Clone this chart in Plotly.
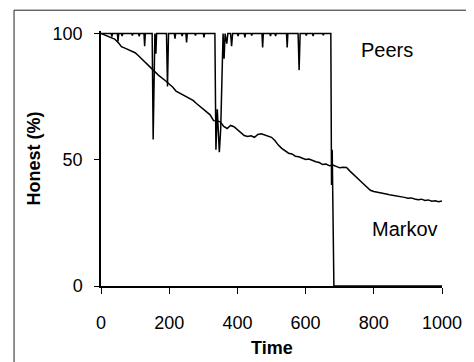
import plotly.graph_objects as go

# ---- data ----
markov_time = list(range(0, 1001, 10))
markov_honest = [
    100, 99.5, 99, 98.2, 97.8, 96.5, 94.8, 94.2, 93.6, 93.0,
    92.4, 91.2, 89.8, 88.5, 87.2, 86.0, 84.6, 83.3, 82.4, 81.2,
    80.0, 78.8, 77.2, 76.5, 75.8, 74.9, 74.4, 73.5, 72.3, 71.2,
    70.3, 69.1, 67.8, 65.5, 65.4, 65.0, 63.2, 62.4, 63.6, 63.1,
    61.8, 60.9, 59.6, 59.2, 59.5, 58.9, 60.0, 60.3, 59.8, 59.5,
    58.9, 57.6, 55.8, 54.5, 53.4, 52.6, 52.3, 51.4, 51.2, 50.5,
    50.1, 50.3, 49.6, 49.2, 48.9, 48.1, 48.3, 47.6, 47.9, 47.2,
    46.8, 47.0, 46.9, 45.5, 44.1, 42.8, 41.7, 40.4, 39.1, 37.9,
    37.4, 37.2, 36.9, 36.8, 36.3, 36.0, 35.8, 35.4, 35.5, 35.1,
    34.8, 34.9, 34.5, 34.2, 34.4, 33.9, 34.1, 33.6, 33.8, 33.4,
    33.7,
]

peers_time = [
    0, 30, 32, 34, 48, 50, 52, 60, 62, 64, 90, 92, 94, 110, 112, 114,
    126, 128, 130, 150, 153, 156, 158, 161, 163, 192, 195, 198, 215, 217, 219,
    236, 238, 240, 249, 251, 253, 275, 277, 279, 300, 302, 304,
    334, 337, 341, 347, 351, 355, 358, 361, 364, 369, 372,
    380, 383, 386, 400, 402, 404, 420, 422, 424, 440, 442, 444,
    472, 474, 476, 495, 497, 499, 510, 512, 514, 544, 546, 548,
    578, 581, 584, 600, 602, 604, 620, 622, 624, 650, 652, 654,
    674, 676, 678, 683, 1000,
]
peers_honest = [
    100, 100, 98.8, 100, 100, 97, 100, 100, 99, 100, 100, 99.2, 100, 100, 98.9, 100,
    100, 95, 100, 100, 58, 100, 100, 92, 100, 100, 79, 100, 100, 98, 100,
    100, 99, 100, 100, 96.5, 100, 100, 99.2, 100, 100, 98.5, 100,
    100, 54, 70, 53, 62, 85, 100, 90, 100, 96, 100,
    100, 95, 100, 100, 99, 100, 100, 98.5, 100, 100, 99.2, 100,
    100, 94.5, 100, 100, 99, 100, 100, 99, 100, 100, 94.5, 100,
    100, 85.5, 100, 100, 99.2, 100, 100, 99, 100, 100, 99.3, 100,
    100, 40, 54, 0, 0,
]

x_ticks = [0, 200, 400, 600, 800, 1000]
y_ticks = [0, 50, 100]

FONT = "Liberation Sans, Arial, sans-serif"

fig = go.Figure()
fig.add_trace(go.Scatter(x=markov_time, y=markov_honest, mode="lines",
                         line=dict(color="black", width=1.5), name="Markov",
                         showlegend=False))
fig.add_trace(go.Scatter(x=peers_time, y=peers_honest, mode="lines",
                         line=dict(color="black", width=1.5), name="Peers",
                         showlegend=False))

# the page body adds an 8px offset, so the figure is sized to fit the window
fig.update_layout(
    width=466, height=354,
    margin=dict(l=93, r=32, t=23, b=76),
    paper_bgcolor="white", plot_bgcolor="white",
    font=dict(family=FONT, size=18, color="black"),
    xaxis=dict(range=[0, 1000], tickvals=x_ticks, ticks="outside", ticklen=6,
               tickwidth=1.2, tickcolor="black", showline=True, linecolor="black",
               linewidth=1.5, showgrid=False, zeroline=False,
               ticklabelstandoff=14,
               tickfont=dict(family=FONT, size=18, color="black")),
    yaxis=dict(range=[0, 101], tickvals=y_ticks, ticks="outside", ticklen=5,
               tickwidth=1.2, tickcolor="black", showline=True, linecolor="black",
               linewidth=1.5, showgrid=False, zeroline=False,
               ticklabelstandoff=8,
               tickfont=dict(family=FONT, size=18, color="black")),
    annotations=[
        dict(text="Peers", x=838.7, y=93.5, xref="x", yref="y", showarrow=False,
             xanchor="center", yanchor="middle",
             font=dict(family=FONT, size=20, color="black")),
        dict(text="Markov", x=891.5, y=22.5, xref="x", yref="y", showarrow=False,
             xanchor="center", yanchor="middle",
             font=dict(family=FONT, size=20, color="black")),
        dict(text="<b>Time</b>", x=0.501, y=-0.243, xref="paper", yref="paper",
             showarrow=False, xanchor="center", yanchor="middle",
             font=dict(family=FONT, size=18, color="black")),
        dict(text="<b>Honest (%)</b>", x=-0.196, y=0.501, xref="paper", yref="paper",
             showarrow=False, textangle=-90, xanchor="center", yanchor="middle",
             font=dict(family=FONT, size=18, color="black")),
    ],
    shapes=[
        dict(type="rect", xref="paper", yref="paper",
             x0=-0.255, x1=1.2, y0=-0.4, y1=1.0816,
             line=dict(color="#222", width=1), layer="below"),
    ],
)

fig.write_html("out.html")
